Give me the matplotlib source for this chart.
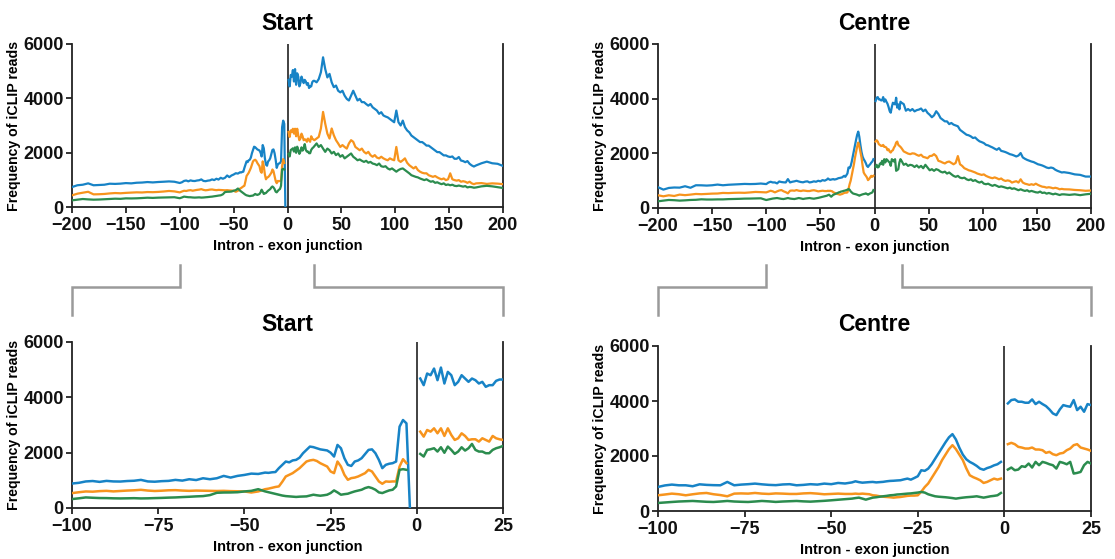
import numpy as np
import matplotlib
matplotlib.use('Agg')
import matplotlib.pyplot as plt
from matplotlib.lines import Line2D

plt.rcParams['font.family'] = ['Liberation Sans', 'DejaVu Sans']

nan = np.nan

# ---------------- positions (nucleotides) ----------------
INTRON_X_FAR = list(range(-200, -100, 5))      # 20 points
INTRON_X_MID = list(range(-100, -44, 2))       # 28 points
START_INTRON_X_NEAR = list(range(-44, -1))     # -44..-2 (43)
CENTRE_INTRON_X_NEAR = list(range(-44, 0))     # -44..-1 (44)
EXON_X = list(range(1, 26)) + list(range(27, 176, 2)) + list(range(180, 201, 5))

# ---------------- Start : intron ----------------
start_blue_intron = [
    734, 800, 820, 870, 800, 810, 820, 857, 850, 860, 880, 870, 893, 900, 918, 905, 920, 930, 942, 930,
    884, 910, 960, 975, 944, 980, 960, 956, 975, 985, 1016, 960, 950, 970, 980, 1016, 990, 1040, 1010, 1075,
    1040, 1075, 1160, 1100, 1160, 1195, 1243, 1230,
    1280, 1270, 1290, 1300, 1440, 1560, 1680, 1650, 1720, 1740, 1820, 1980, 2100, 2220, 2200, 2160, 2120,
    2100, 2080, 2000, 1860, 2280, 2160, 1800, 1560, 1520, 1680, 1720, 1800, 1950, 2100, 2120, 1980, 1740,
    1440, 1560, 1600, 1620, 1680, 2940, 3180, 3060, 0]
start_orange_intron = [
    428, 490, 526, 560, 465, 470, 480, 500, 514, 505, 520, 530, 540, 535, 550, 545, 555, 570, 590, 575,
    538, 570, 598, 590, 610, 620, 600, 615, 630, 640, 657, 630, 615, 625, 640, 645, 630, 620, 630, 625,
    620, 615, 620, 610, 605, 598, 560, 598,
    680, 700, 730, 760, 780, 950, 1140, 1200, 1260, 1350, 1440, 1560, 1680, 1720, 1740, 1700, 1620, 1560,
    1500, 1320, 1260, 1680, 1500, 1200, 1020, 1080, 1100, 1140, 1200, 1260, 1380, 1320, 1140, 960, 876,
    960, 950, 960, 960, 1500, 1764, 1620, nan]
start_green_intron = [
    245, 270, 294, 280, 270, 275, 285, 295, 306, 300, 318, 315, 320, 330, 343, 335, 345, 350, 355, 360,
    323, 350, 382, 370, 360, 358, 350, 346, 350, 355, 346, 350, 358, 365, 375, 382, 395, 406, 420, 430,
    466, 550, 560, 562, 570, 598, 620, 680,
    600, 570, 540, 510, 480, 450, 430, 420, 410, 400, 410, 415, 420, 450, 480, 460, 444, 460, 480, 540,
    636, 564, 480, 500, 516, 560, 600, 630, 660, 720, 756, 720, 660, 564, 540, 590, 636, 660, 780, 1380,
    1404, 1380, nan]

# ---------------- Start : exon ----------------
start_blue_exon = [
    4680, 4440, 4860, 4800, 5040, 4620, 5076, 4500, 4920, 4800, 4440, 4560, 4800, 4680, 4560,
    4680, 4620, 4500, 4560, 4380, 4440, 4440, 4596, 4644, 4644,
    4590, 4710, 4960, 5510, 5080, 4770, 4900, 4590, 4410, 4470,
    4280, 4220, 4280, 4100, 3980, 3920, 4100, 4280, 4100, 3920,
    3980, 3860, 3860, 3790, 3730, 3790, 3670, 3610, 3550, 3430,
    3490, 3370, 3330, 3300, 3240, 3180, 3120, 3550, 3120, 3000,
    3180, 2940, 2820, 2750, 2630, 2570, 2510, 2450, 2390, 2390,
    2330, 2260, 2260, 2200, 2140, 2080, 2020, 2020, 1960, 1900,
    1900, 1860, 1840, 1860, 1775, 1775, 1840, 1710, 1690, 1650,
    1690, 1590, 1530, 1490, 1530,
    1610, 1670, 1610, 1590, 1510]
start_orange_exon = [
    2760, 2580, 2820, 2760, 2880, 2700, 2880, 2604, 2880, 2640, 2460, 2520, 2700, 2604, 2460,
    2484, 2484, 2400, 2520, 2460, 2400, 2604, 2520, 2484, 2460,
    2520, 2580, 2890, 3500, 3070, 2700, 2520, 2890, 2640, 2460,
    2340, 2210, 2280, 2210, 2150, 2340, 2460, 2400, 2210, 2150,
    2090, 2150, 2030, 1970, 2030, 1910, 1850, 1910, 1820, 1790,
    1850, 1790, 1750, 1720, 1790, 1750, 1720, 2210, 1720, 1660,
    1720, 1790, 1630, 1540, 1480, 1420, 1480, 1360, 1300, 1260,
    1240, 1240, 1170, 1140, 1110, 1140, 1090, 1050, 1020, 1050,
    990, 1020, 1240, 1020, 990, 970, 990, 930, 950, 930,
    890, 930, 870, 840, 870,
    880, 850, 870, 860, 840]
start_green_exon = [
    1956, 1860, 2100, 2124, 2160, 2040, 2196, 1996, 2220, 2100, 1956, 2040, 2196, 2076, 2160,
    2316, 2100, 2040, 2040, 1980, 1980, 2100, 2160, 2196, 2244,
    2340, 2210, 2280, 2150, 2030, 2150, 2090, 1970, 2030, 1910,
    1970, 1850, 1910, 1790, 1850, 1910, 1970, 1850, 1790, 1720,
    1750, 1700, 1660, 1700, 1630, 1660, 1600, 1580, 1540, 1600,
    1500, 1480, 1500, 1420, 1380, 1420, 1360, 1300, 1360, 1400,
    1420, 1360, 1300, 1240, 1170, 1140, 1110, 1090, 1050, 1020,
    990, 1020, 970, 930, 950, 890, 910, 870, 840, 870,
    810, 830, 800, 820, 780, 770, 790, 770, 750, 770,
    720, 740, 730, 710, 720,
    760, 780, 760, 730, 700]

# ---------------- Centre : intron ----------------
centre_blue_intron = [
    760, 673, 734, 750, 745, 796, 740, 832, 830, 820, 832, 857, 832, 850, 860, 870, 881, 875, 880, 895,
    875, 930, 960, 935, 935, 900, 970, 950, 940, 935, 1057, 935, 960, 975, 996, 970, 950, 940, 965, 975,
    935, 950, 975, 960, 996, 975, 1020, 1000,
    1040, 1080, 1050, 1030, 1040, 1050, 1057, 1040, 1050, 1060, 1080, 1094, 1100, 1110, 1118,
    1150, 1178, 1140, 1200, 1264, 1482, 1460, 1540, 1700, 1900, 2100, 2300, 2500, 2680, 2795,
    2600, 2300, 2050, 1880, 1786, 1720, 1640, 1540, 1500, 1560, 1600, 1660, 1700, 1786]
centre_orange_intron = [
    465, 428, 465, 440, 490, 470, 490, 514, 505, 515, 526, 530, 551, 545, 555, 560, 555, 570, 588, 580,
    571, 600, 632, 610, 571, 608, 640, 656, 610, 580, 535, 632, 640, 632, 656, 632, 620, 640, 632, 620,
    620, 640, 650, 632, 608, 620, 632, 620,
    620, 632, 620, 632, 620, 610, 571, 560, 535, 520, 510, 500, 486, 500, 510,
    530, 550, 560, 560, 571, 700, 870, 1000, 1200, 1400, 1600, 1850, 2050, 2250, 2394,
    2250, 2050, 1850, 1550, 1300, 1230, 1178, 1118, 1020, 1057, 1118, 1178, 1142, 1178]
centre_green_intron = [
    245, 270, 294, 285, 270, 280, 294, 300, 318, 310, 310, 315, 315, 325, 330, 335, 343, 345, 350, 355,
    292, 310, 328, 345, 355, 365, 350, 335, 328, 345, 365, 345, 335, 328, 345, 365, 350, 330, 345, 355,
    365, 350, 340, 355, 370, 389, 410, 430,
    450, 470, 486, 450, 413, 450, 486, 500, 520, 535, 550, 571, 580, 600, 608,
    620, 632, 640, 656, 670, 693, 670, 608, 570, 535, 520, 510, 500, 486, 470,
    450, 470, 486, 500, 510, 520, 535, 510, 486, 510, 535, 550, 571, 656]

# ---------------- Centre : exon ----------------
centre_blue_exon = [
    3912, 4034, 4058, 3973, 3973, 3937, 3937, 4058, 3888, 3973, 3888, 3815, 3694, 3548, 3487,
    3694, 3851, 3815, 3791, 4034, 3669, 3791, 3609, 3888, 3851,
    3800, 3560, 3620, 3560, 3620, 3535, 3580, 3600, 3640, 3540,
    3600, 3480, 3410, 3320, 3390, 3540, 3440, 3290, 3230, 3170,
    3170, 3070, 3110, 3050, 3020, 2990, 2860, 2800, 2740, 2680,
    2660, 2620, 2560, 2580, 2500, 2440, 2410, 2375, 2310, 2290,
    2250, 2215, 2170, 2130, 2190, 2090, 2070, 2045, 2010, 1970,
    1950, 1920, 1885, 1920, 2010, 1850, 1800, 1760, 1730, 1700,
    1680, 1640, 1600, 1580, 1555, 1520, 1480, 1460, 1480, 1460,
    1400, 1360, 1330, 1300, 1310,
    1280, 1230, 1212, 1150, 1150]
centre_orange_exon = [
    2430, 2479, 2430, 2333, 2308, 2272, 2272, 2308, 2236, 2236, 2211, 2114, 2150, 2065, 2029,
    2090, 2114, 2211, 2272, 2394, 2430, 2308, 2272, 2236, 2187,
    2070, 2030, 1990, 1970, 2000, 1990, 1945, 1910, 1950, 1870,
    1850, 1820, 1900, 1910, 1970, 1900, 1725, 1700, 1660, 1630,
    1680, 1700, 1650, 1600, 1650, 1900, 1600, 1540, 1455, 1420,
    1380, 1360, 1330, 1300, 1260, 1235, 1210, 1230, 1175, 1140,
    1110, 1090, 1120, 1090, 1050, 1080, 1020, 990, 1010, 990,
    930, 960, 980, 930, 1050, 930, 890, 870, 845, 870,
    845, 890, 845, 810, 780, 770, 745, 760, 745, 720,
    740, 720, 685, 700, 685,
    680, 660, 650, 630, 640]
centre_green_exon = [
    1507, 1580, 1482, 1507, 1628, 1604, 1725, 1580, 1786, 1665, 1786, 1750, 1700, 1665, 1543,
    1786, 1750, 1700, 1786, 1361, 1385, 1421, 1665, 1786, 1725,
    1580, 1620, 1540, 1580, 1560, 1500, 1560, 1480, 1540, 1455,
    1580, 1480, 1380, 1420, 1360, 1420, 1390, 1330, 1300, 1330,
    1260, 1300, 1235, 1175, 1140, 1175, 1110, 1090, 1110, 1050,
    1020, 1050, 990, 1020, 965, 930, 965, 890, 870, 890,
    845, 810, 845, 810, 770, 790, 770, 745, 720, 745,
    700, 720, 685, 650, 685, 650, 625, 650, 600, 625,
    600, 575, 565, 600, 550, 565, 525, 550, 525, 500,
    525, 500, 475, 500, 500,
    480, 500, 470, 500, 520]

TOP_XTICKS = [-200, -150, -100, -50, 0, 50, 100, 150, 200]
BOTTOM_XTICKS = [-100, -75, -50, -25, 0, 25]
YTICKS = [0, 2000, 4000, 6000]
TITLES = ['Start', 'Centre']

BLUE, ORANGE, GREEN = '#1783c6', '#f7941d', '#2b8c4e'

W, H = 1115, 559
fig = plt.figure(figsize=(W / 100, H / 100), dpi=100)


def add_axes(l, r, t, b):
    return fig.add_axes([l / W, 1 - b / H, (r - l) / W, (b - t) / H])


ax_tl = add_axes(72, 503, 44, 207)
ax_tr = add_axes(658, 1091, 44, 208)
ax_bl = add_axes(72, 503, 342, 508)
ax_br = add_axes(658, 1091, 346, 511)


def style(ax, xlim, xticks, title, pad):
    ax.set_xlim(*xlim)
    ax.set_ylim(0, 6000)
    ax.set_xticks(xticks)
    ax.set_yticks(YTICKS)
    ax.spines['top'].set_visible(False)
    for s in ['left', 'bottom', 'right']:
        ax.spines[s].set_linewidth(1.3)
        ax.spines[s].set_color('#222222')
    ax.axvline(0, color='#333333', lw=1.3, zorder=1)
    ax.tick_params(direction='out', length=4, width=1.2, labelsize=13, pad=2,
                   colors='#111111')
    ax.tick_params(axis='x', pad=3)
    for lab in ax.get_xticklabels() + ax.get_yticklabels():
        lab.set_fontweight('bold')
    ax.set_title(title, fontsize=16.5, fontweight='bold', pad=pad)
    ax.set_xlabel('Intron - exon junction', fontsize=10.5, fontweight='bold', labelpad=4)
    ax.set_ylabel('Frequency of iCLIP reads', fontsize=10.2, fontweight='bold', labelpad=2)


groups = [
    (ax_tl, ax_bl, START_INTRON_X_NEAR,
     (start_blue_intron, start_orange_intron, start_green_intron),
     (start_blue_exon, start_orange_exon, start_green_exon)),
    (ax_tr, ax_br, CENTRE_INTRON_X_NEAR,
     (centre_blue_intron, centre_orange_intron, centre_green_intron),
     (centre_blue_exon, centre_orange_exon, centre_green_exon)),
]

for (ax_top, ax_bot, near_x, intr, exon), title in zip(groups, TITLES):
    ix = np.array(INTRON_X_FAR + INTRON_X_MID + near_x)
    ex = np.array(EXON_X)
    for ser_i, ser_e, c in zip(intr, exon, [BLUE, ORANGE, GREEN]):
        yi = np.array(ser_i, dtype=float)
        ye = np.array(ser_e, dtype=float)
        ax_top.plot(ix, yi, color=c, lw=1.6, zorder=3)
        ax_top.plot(ex, ye, color=c, lw=1.6, zorder=3)
        mi = ix >= -100
        me = ex <= 25
        ax_bot.plot(ix[mi], yi[mi], color=c, lw=1.8, zorder=3)
        ax_bot.plot(ex[me], ye[me], color=c, lw=1.8, zorder=3)
    style(ax_top, (-200, 200), TOP_XTICKS, title, 10)
    style(ax_bot, (-100, 25), BOTTOM_XTICKS, title, 8 if ax_bot is ax_bl else 10.5)

# ---------------- zoom brackets ----------------
inv = fig.transFigure.inverted()


def fx(ax, xv):
    return inv.transform(ax.transData.transform((xv, 0)))[0]


y_top, y_mid, y_bot = 1 - 265 / H, 1 - 287 / H, 1 - 315 / H
for ax_top, ax_bot in [(ax_tl, ax_bl), (ax_tr, ax_br)]:
    for xv in (-100, 25):
        xa, xb = fx(ax_top, xv), fx(ax_bot, xv)
        fig.add_artist(Line2D([xa, xa, xb, xb], [y_top, y_mid, y_mid, y_bot],
                              transform=fig.transFigure, color='#9a9a9a', lw=1.8,
                              solid_joinstyle='miter'))

fig.savefig('out.png', dpi=100)
